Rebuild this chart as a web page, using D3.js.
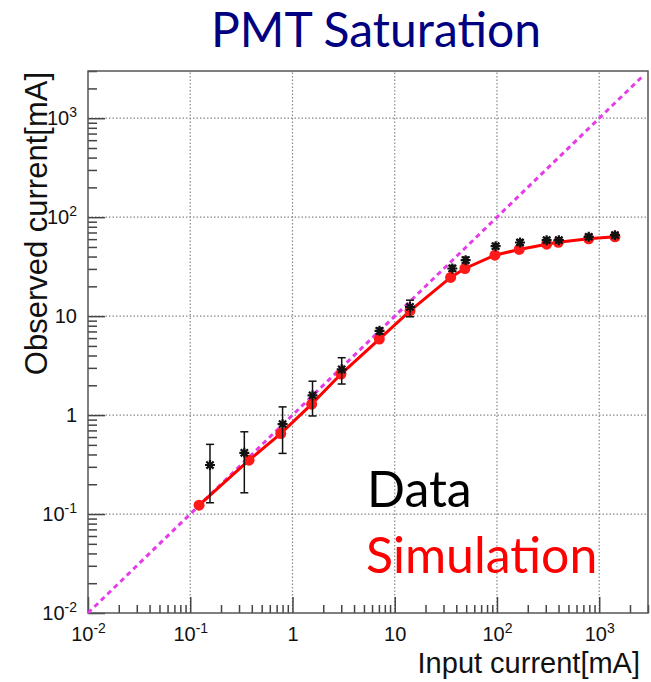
<!DOCTYPE html>
<html>
<head>
  <meta charset="utf-8">
  <script src="https://d3js.org/d3.v7.min.js"></script>
  <style>
    body { margin: 0; background: #fff; }
    svg { display: block; }
    .tick text { font-family: "Liberation Sans", Arial, sans-serif; }
  </style>
</head>
<body>
  <svg width="651" height="682"></svg>
  <script>
    var width = 651;
    var height = 682;
    var margin = { top: 71, right: 3, bottom: 69, left: 88 };

    // data
    var dataX = [0.156, 0.338, 0.80, 1.57, 3.03, 7.1, 14.1, 36.6, 49.4, 97, 168, 306, 403, 790, 1426];
    var dataY = [0.313, 0.416, 0.81, 1.58, 2.9, 7.1, 12.4, 30.3, 36.8, 50.9, 55.5, 58.6, 58.6, 63.3, 65.8];
    var dataLow = [0.13, 0.164, 0.41, 0.98, 2.06, 6.6, 9.85, 28.5, 34.5, 48, 52.5, 55.5, 55.5, 60, 62.5];
    var dataHigh = [0.506, 0.678, 1.21, 2.2, 3.8, 7.6, 14.5, 32.5, 39.5, 54, 59, 62, 62, 67, 69.5];

    var simX = [0.122, 0.376, 0.767, 1.54, 2.98, 7.07, 14.1, 35.2, 48.6, 95.5, 165, 306, 398, 788, 1426];
    var simY = [0.123, 0.35, 0.65, 1.29, 2.6, 5.86, 11.3, 24.6, 30.3, 41.3, 47.2, 53.3, 55.8, 60.4, 63.3];

    var diagonal = [0.01, 2600];

    var majorTicks = [0.01, 0.1, 1, 10, 100, 1000];
    var tickLabels = [["10", "-2"], ["10", "-1"], ["1", ""], ["10", ""], ["10", "2"], ["10", "3"]];

    var svg = d3.select('svg');

    var x = d3.scaleLog()
      .domain([0.01, 3000])
      .range([margin.left, width - margin.right]);
    var y = d3.scaleLog()
      .domain([0.01, 3000])
      .range([height - margin.bottom, margin.top]);

    // minor ticks: 2..9 of each decade
    var minor = [];
    for (var e = -2; e <= 3; e++) {
      for (var m = 2; m <= 9; m++) {
        var v = m * Math.pow(10, e);
        if (v <= 3000) minor.push(+v.toPrecision(3));
      }
    }

    // grid
    svg.append('g')
      .selectAll('line.gx')
      .data(majorTicks.slice(1))
      .enter().append('line')
      .attr('x1', d => x(d)).attr('x2', d => x(d))
      .attr('y1', y(0.01)).attr('y2', y(3000))
      .attr('stroke', '#888').attr('stroke-width', 1.2).attr('stroke-dasharray', '1.5,2');
    svg.append('g')
      .selectAll('line.gy')
      .data(majorTicks.slice(1))
      .enter().append('line')
      .attr('y1', d => y(d)).attr('y2', d => y(d))
      .attr('x1', x(0.01)).attr('x2', x(3000))
      .attr('stroke', '#888').attr('stroke-width', 1.2).attr('stroke-dasharray', '1.5,2');

    // axes
    var xAxis = d3.axisBottom(x).tickValues(majorTicks).tickSize(-16).tickPadding(14)
      .tickFormat(() => '');
    var xMinor = d3.axisBottom(x).tickValues(minor).tickSize(-8).tickFormat(() => '');
    var yAxis = d3.axisLeft(y).tickValues(majorTicks).tickSize(-17).tickPadding(11)
      .tickFormat(() => '');
    var yMinor = d3.axisLeft(y).tickValues(minor).tickSize(-9).tickFormat(() => '');

    function styleAxis(g) {
      g.select('.domain').remove();
      g.selectAll('.tick line').attr('stroke', '#444').attr('stroke-width', 1.5);
    }

    function writeLabel(sel) {
      sel.each(function (d, i) {
        var t = d3.select(this);
        var lab = tickLabels[majorTicks.indexOf(d)];
        t.attr('font-size', 20).attr('fill', '#111');
        t.append('tspan').text(lab[0]);
        if (lab[1]) {
          t.append('tspan').attr('font-size', 14).attr('dy', '-8').text(lab[1]);
        }
      });
    }

    var gx = svg.append('g')
      .attr('transform', 'translate(' + [0, height - margin.bottom] + ')')
      .call(xAxis).call(styleAxis);
    gx.selectAll('.tick text').call(writeLabel);
    svg.append('g')
      .attr('transform', 'translate(' + [0, height - margin.bottom] + ')')
      .call(xMinor).call(styleAxis);

    var gy = svg.append('g')
      .attr('transform', 'translate(' + [margin.left, 0] + ')')
      .call(yAxis).call(styleAxis);
    gy.selectAll('.tick text').call(writeLabel);
    svg.append('g')
      .attr('transform', 'translate(' + [margin.left, 0] + ')')
      .call(yMinor).call(styleAxis);

    // frame
    svg.append('rect')
      .attr('x', x(0.01)).attr('y', y(3000))
      .attr('width', x(3000) - x(0.01))
      .attr('height', y(0.01) - y(3000))
      .attr('fill', 'none').attr('stroke', '#555').attr('stroke-width', 1.5);

    // y = x line
    svg.append('line')
      .attr('x1', x(diagonal[0])).attr('y1', y(diagonal[0]))
      .attr('x2', x(diagonal[1])).attr('y2', y(diagonal[1]))
      .attr('stroke', '#e53be8').attr('stroke-width', 3)
      .attr('stroke-dasharray', '5,4');

    // simulation
    var sim = simX.map((d, i) => [d, simY[i]]);
    svg.append('path')
      .datum(sim)
      .attr('d', d3.line().x(d => x(d[0])).y(d => y(d[1])))
      .attr('fill', 'none').attr('stroke', '#ff0000').attr('stroke-width', 3);
    svg.append('g').selectAll('circle')
      .data(sim)
      .enter().append('circle')
      .attr('cx', d => x(d[0])).attr('cy', d => y(d[1]))
      .attr('r', 5.5).attr('fill', '#ff1a1a');

    // data with error bars
    var dat = dataX.map((d, i) => ({ x: d, y: dataY[i], lo: dataLow[i], hi: dataHigh[i] }));
    var dg = svg.append('g').selectAll('g')
      .data(dat)
      .enter().append('g')
      .attr('stroke', '#111').attr('stroke-width', 1.5);
    dg.append('line')
      .attr('x1', d => x(d.x)).attr('x2', d => x(d.x))
      .attr('y1', d => y(d.lo)).attr('y2', d => y(d.hi));
    dg.append('line')
      .attr('x1', d => x(d.x) - 4).attr('x2', d => x(d.x) + 4)
      .attr('y1', d => y(d.lo)).attr('y2', d => y(d.lo));
    dg.append('line')
      .attr('x1', d => x(d.x) - 4).attr('x2', d => x(d.x) + 4)
      .attr('y1', d => y(d.hi)).attr('y2', d => y(d.hi));
    var s = 5, s2 = 3.6;
    dg.append('path')
      .attr('stroke-width', 2.2)
      .attr('d', function (d) {
        var cx = x(d.x), cy = y(d.y);
        return 'M' + (cx - s) + ',' + cy + 'H' + (cx + s) +
          'M' + cx + ',' + (cy - s) + 'V' + (cy + s) +
          'M' + (cx - s2) + ',' + (cy - s2) + 'L' + (cx + s2) + ',' + (cy + s2) +
          'M' + (cx - s2) + ',' + (cy + s2) + 'L' + (cx + s2) + ',' + (cy - s2);
      });

    // axis titles
    svg.append('text')
      .attr('x', 640).attr('y', 673)
      .attr('text-anchor', 'end')
      .attr('font-family', '"Liberation Sans", Arial, sans-serif')
      .attr('font-size', 29).attr('fill', '#111')
      .text('Input current[mA]');
    svg.append('text')
      .attr('transform', 'translate(47,72) rotate(-90)')
      .attr('text-anchor', 'end')
      .attr('font-family', '"Liberation Sans", Arial, sans-serif')
      .attr('font-size', 31).attr('fill', '#111')
      .text('Observed current[mA]');

    // title and legend
    svg.append('text')
      .attr('x', 376).attr('y', 47)
      .attr('text-anchor', 'middle')
      .attr('font-family', 'Lato, sans-serif')
      .attr('font-size', 48).attr('fill', '#000080')
      .text('PMT Saturation');
    svg.append('text')
      .attr('x', 367).attr('y', 507)
      .attr('font-family', 'Lato, sans-serif')
      .attr('font-size', 50).attr('fill', '#000')
      .text('Data');
    svg.append('text')
      .attr('x', 366).attr('y', 573)
      .attr('font-family', 'Lato, sans-serif')
      .attr('font-size', 50).attr('fill', '#ff0000')
      .text('Simulation');
  </script>
</body>
</html>
